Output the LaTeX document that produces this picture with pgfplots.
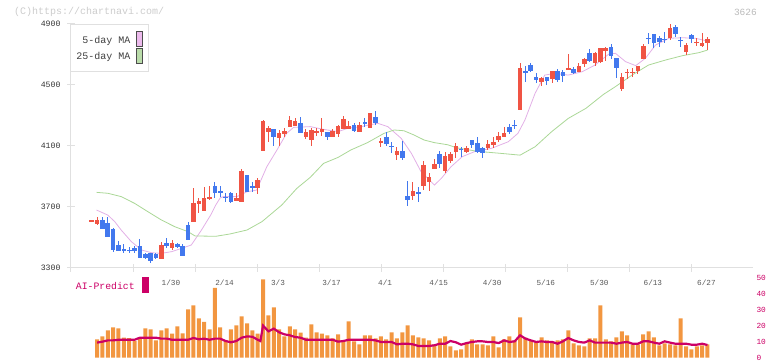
\documentclass[border=0pt]{standalone}
\usepackage{fontspec}
\setmainfont{Liberation Mono}
\usepackage{pgfplots}
\usepackage{pgfplotstable}
\pgfplotsset{compat=1.18}
\definecolor{cred}{RGB}{240,84,68}
\definecolor{cblue}{RGB}{66,120,238}
\definecolor{mafive}{RGB}{226,176,230}
\definecolor{matwentyfive}{RGB}{170,215,150}
\definecolor{volor}{RGB}{242,150,64}
\definecolor{aimag}{RGB}{204,0,102}
\definecolor{legpink}{RGB}{236,186,236}
\definecolor{leggreen}{RGB}{186,220,170}

\pgfplotstableread{
x o h l c
0 3607 3614 3607 3614
1 3591 3632 3582 3615
13 3357 3473 3357 3451
15 3433 3484 3418 3462
19 3604 3822 3604 3724
20 3722 3757 3658 3742
21 3676 3833 3676 3761
22 3758 3838 3746 3765
27 3741 3790 3741 3761
28 3735 3949 3735 3936
31 3827 3888 3783 3877
32 4069 4270 4069 4264
33 4194 4231 4128 4220
35 4155 4205 4102 4187
36 4179 4216 4161 4198
37 4227 4299 4227 4270
38 4231 4281 4231 4264
40 4161 4209 4146 4194
41 4139 4216 4102 4205
42 4190 4216 4168 4197
43 4194 4281 4168 4211
45 4161 4211 4161 4198
46 4176 4238 4161 4231
47 4211 4297 4211 4275
48 4211 4264 4211 4231
50 4194 4260 4194 4238
52 4220 4314 4220 4314
54 4117 4155 4096 4135
57 4041 4096 4008 4067
60 3772 3862 3746 3805
62 3838 4002 3811 3975
63 3866 3925 3805 3894
64 3949 4013 3949 3982
66 3938 4063 3925 4034
67 4002 4063 3986 4048
68 4063 4117 4019 4100
70 4063 4102 4052 4089
74 4085 4139 4074 4113
75 4106 4161 4085 4128
76 4139 4194 4128 4165
77 4157 4227 4157 4187
80 4336 4646 4336 4614
84 4522 4555 4496 4548
86 4539 4592 4511 4592
89 4602 4703 4598 4609
91 4587 4642 4583 4625
92 4635 4675 4620 4670
94 4642 4718 4627 4708
95 4653 4745 4642 4745
96 4723 4747 4657 4740
99 4474 4581 4463 4555
100 4580 4603 4539 4587
101 4580 4609 4555 4587
102 4592 4624 4570 4624
103 4668 4769 4668 4756
108 4810 4900 4795 4876
111 4718 4773 4697 4762
113 4778 4806 4758 4785
114 4756 4843 4751 4778
115 4773 4812 4729 4802
}\upc

\pgfplotstableread{
x o h l c
2 3615 3632 3556 3556
3 3593 3632 3505 3505
4 3556 3560 3407 3418
5 3451 3477 3414 3414
6 3427 3457 3396 3409
7 3421 3440 3400 3414
8 3429 3444 3400 3414
9 3444 3490 3363 3368
10 3390 3396 3359 3363
11 3396 3396 3330 3348
12 3390 3396 3359 3363
14 3462 3494 3429 3444
16 3457 3462 3429 3435
17 3444 3457 3381 3381
18 3582 3599 3484 3484
23 3838 3866 3760 3790
24 3807 3838 3768 3790
25 3768 3794 3735 3761
26 3790 3800 3724 3735
29 3910 3910 3800 3800
30 3836 3866 3800 3829
34 4211 4211 4102 4161
39 4253 4292 4187 4187
44 4194 4194 4139 4161
49 4238 4249 4190 4198
51 4256 4281 4227 4249
53 4292 4330 4238 4249
55 4157 4190 4102 4113
56 4103 4128 4052 4096
58 4067 4133 4008 4023
59 3772 3873 3706 3746
61 3797 3829 3735 3790
65 4048 4067 3958 3982
69 4081 4096 4030 4074
71 4139 4139 4085 4106
72 4117 4161 4052 4063
73 4085 4096 4019 4056
78 4227 4242 4176 4194
79 4240 4270 4211 4233
81 4590 4625 4517 4583
82 4631 4642 4587 4594
83 4555 4581 4515 4533
85 4555 4555 4500 4528
87 4592 4605 4522 4533
88 4587 4598 4522 4561
90 4605 4620 4572 4576
93 4708 4734 4653 4659
97 4747 4769 4670 4692
98 4675 4675 4548 4614
104 4809 4839 4767 4802
105 4834 4834 4745 4778
106 4810 4821 4751 4784
107 4802 4845 4773 4795
109 4882 4893 4817 4834
110 4798 4817 4747 4791
112 4828 4834 4773 4799
}\dnc

\pgfplotstableread{
x m
0.9 3680
3.0 3647
4.3 3604
5.5 3549
7.4 3473
9.3 3418
11.2 3400
13.0 3396
14.9 3407
16.8 3429
18.6 3451
20.5 3549
22.3 3652
23.2 3715
24.0 3760
24.6 3768
27.1 3768
29.0 3800
30.8 3811
32.7 3964
34.6 4074
36.4 4183
37.7 4222
40.8 4227
43.3 4209
46.0 4194
47.8 4216
50.3 4227
53.4 4249
55.3 4227
57.8 4150
59.7 4052
61.5 3932
64.0 3844
65.3 3888
67.1 3964
69.2 4030
71.5 4063
74.7 4085
77.8 4128
79.6 4183
80.9 4270
82.8 4445
84.6 4565
86.5 4576
89.0 4565
91.6 4587
94.0 4631
96.5 4701
97.8 4708
99.7 4653
101.6 4627
103.4 4675
105.3 4762
107.8 4806
110.3 4810
112.8 4806
115.0 4788
}\mafivetab

\pgfplotstableread{
x m
0.9 3796
3.0 3790
5.5 3768
8.0 3724
10.5 3669
13.0 3615
15.5 3571
18.0 3538
19.3 3510
23.2 3508
25.8 3523
29.0 3549
31.8 3604
35.5 3713
38.3 3822
40.8 3894
43.3 3986
46.0 4025
48.4 4074
51.5 4122
54.6 4183
56.5 4205
58.3 4200
60.2 4172
62.1 4139
64.0 4122
66.5 4108
68.2 4088
72.0 4065
76.3 4052
80.0 4040
82.8 4095
85.9 4194
89.0 4281
92.3 4347
95.6 4439
97.8 4489
100.9 4565
104.0 4631
107.2 4664
110.3 4692
113.4 4712
115.0 4729
}\matwfivetab

\pgfplotstableread{
x v
1 11.6
2 13.4
3 17.2
4 19.1
5 18.5
6 12.6
7 12.4
8 10.5
9 13.0
10 18.5
11 17.9
12 10.9
13 17.2
14 18.5
15 15.1
16 19.7
17 15.3
18 30.5
19 33.0
20 24.8
21 22.5
22 17.9
23 43.9
24 19.1
25 11.1
26 17.9
27 20.4
28 26.1
29 21.6
30 17.2
31 15.1
32 49.4
33 26.7
34 31.7
35 17.9
36 13.4
37 19.7
38 17.9
39 15.8
40 12.6
41 21.0
42 16.0
43 15.1
44 14.1
45 12.2
46 14.7
47 10.3
48 22.9
49 10.3
50 8.4
51 14.1
52 14.1
53 12.2
54 13.4
55 11.6
56 16.0
57 12.2
58 16.0
59 20.4
60 14.1
61 12.8
62 12.2
63 10.9
64 8.4
65 12.2
66 13.4
67 7.1
68 4.6
69 5.3
70 9.0
71 11.6
72 8.4
73 8.4
74 7.8
75 13.4
76 6.5
77 11.6
78 13.4
79 10.9
80 25.4
81 12.6
82 10.9
83 9.7
84 12.8
85 10.9
86 9.7
87 10.9
88 11.6
89 17.2
90 9.0
91 7.8
92 7.1
93 12.2
94 12.2
95 33.0
96 11.6
97 10.3
98 12.8
99 16.6
100 14.1
101 8.4
102 8.4
103 14.7
104 16.6
105 12.8
106 7.8
107 9.0
108 8.4
109 7.8
110 24.8
111 7.1
112 5.3
113 7.1
114 7.8
115 8.4
}\voltab

\pgfplotstableread{
x a
1 9.5
2 10.1
3 10.9
4 10.9
5 11.3
6 11.3
7 11.3
8 11.3
9 12.6
10 12.6
11 12.6
12 12.6
13 12.0
14 12.0
15 11.3
16 11.3
17 11.3
18 11.3
19 12.4
20 11.6
21 12.0
22 11.3
23 12.0
24 12.0
25 10.5
26 9.7
27 10.5
28 12.6
29 13.4
30 13.2
31 11.3
31.5 10.5
32 20.2
33 16.6
34 18.3
35 16.0
36 14.7
37 14.1
38 13.0
39 12.6
40 11.3
41 11.3
42 11.3
43 11.3
44 11.3
45 11.3
46 10.1
47 10.5
48 11.3
49 11.3
50 11.3
51 11.3
52 11.3
53 10.9
54 9.9
55 9.9
56 9.9
57 8.4
58 8.8
59 8.8
60 8.4
61 7.4
62 7.4
63 7.4
64 7.8
65 8.8
66 8.8
67 10.5
68 9.7
69 8.2
70 9.2
71 9.9
72 10.3
73 10.3
74 9.9
75 9.9
76 9.2
77 10.9
78 9.9
79 10.3
80 14.1
81 12.0
82 10.9
83 9.9
84 10.3
85 9.9
86 9.9
87 8.8
88 10.3
89 12.4
90 10.9
91 9.9
92 9.5
93 10.9
94 9.5
95 9.5
96 9.5
97 9.5
98 8.8
99 9.5
100 9.9
101 8.8
102 8.8
103 10.3
104 10.3
105 9.5
106 8.8
107 10.3
108 9.5
109 8.8
110 8.8
111 8.8
112 8.2
113 8.2
114 8.8
115 8.0
}\aitab

\begin{document}
\begin{tikzpicture}[x=1pt,y=1pt]
\path[use as bounding box] (0,0) rectangle (772,361);

\begin{axis}[
  at={(71pt,93pt)}, anchor=south west, scale only axis,
  width=682pt, height=244pt,
  xmin=-3.87, xmax=123.5, ymin=3300, ymax=4900,
  axis x line*=bottom, axis y line*=left,
  axis line style={draw=black!12, line width=1pt, -},
  xtick={-3.87,7.71,19.29,30.87,42.45,54.03,65.61,77.19,88.77,100.35,111.93,123.51},
  xticklabels={},
  ytick={3300,3700,4100,4500,4900},
  tick align=center, major tick length=8pt,
  tick style={draw=black!12, line width=1pt},
  yticklabel style={font=\fontsize{8.2}{9}\selectfont, text=black!80, xshift=-3pt},
  /pgf/number format/1000 sep={},
  /pgf/number format/assume math mode=true,
  clip=false,
  candle/.style={draw=none, mark=none, forget plot,
    error bars/.cd, y dir=both, y explicit, error mark=none},
]
\addplot[mafive, line width=0.8pt, mark=none] table[x=x,y=m]{\mafivetab};
\addplot[matwentyfive, line width=0.8pt, mark=none] table[x=x,y=m]{\matwfivetab};
% wicks
\addplot[candle, error bar style={line width=1pt, draw=cred, solid}]
  table[x=x, y expr={(\thisrow{h}+\thisrow{l})/2}, y error expr={(\thisrow{h}-\thisrow{l})/2}]{\upc};
\addplot[candle, error bar style={line width=1pt, draw=cblue, solid}]
  table[x=x, y expr={(\thisrow{h}+\thisrow{l})/2}, y error expr={(\thisrow{h}-\thisrow{l})/2}]{\dnc};
% bodies
\addplot[candle, error bar style={line width=4.6pt, draw=cred, solid}]
  table[x=x, y expr={(\thisrow{o}+\thisrow{c})/2}, y error expr={abs(\thisrow{c}-\thisrow{o})/2}]{\upc};
\addplot[candle, error bar style={line width=4.6pt, draw=cblue, solid}]
  table[x=x, y expr={(\thisrow{o}+\thisrow{c})/2}, y error expr={abs(\thisrow{c}-\thisrow{o})/2}]{\dnc};
\end{axis}

\begin{axis}[
  at={(71pt,3.3pt)}, anchor=south west, scale only axis,
  width=682pt, height=79.4pt,
  xmin=-3.87, xmax=123.5, ymin=0, ymax=50,
  axis x line=none, axis y line*=right,
  y axis line style={draw=none},
  ytick={0,10,20,30,40,50}, major tick length=0pt,
  yticklabel style={font=\fontsize{7.8}{8}\selectfont, text=aimag},
  /pgf/number format/assume math mode=true,
  clip=false,
]
\addplot[ybar, bar width=4pt, fill=volor, draw=none] table[x=x,y=v]{\voltab};
\addplot[aimag, line width=2.2pt, mark=none] table[x=x,y=a]{\aitab};
\begin{scope}[every node/.style={font=\fontsize{7.7}{8}\selectfont, text=black!65}]
\node at (axis cs:14.8,47.3) {1/30};
\node at (axis cs:24.8,47.3) {2/14};
\node at (axis cs:34.8,47.3) {3/3};
\node at (axis cs:44.8,47.3) {3/17};
\node at (axis cs:54.8,47.3) {4/1};
\node at (axis cs:64.8,47.3) {4/15};
\node at (axis cs:74.8,47.3) {4/30};
\node at (axis cs:84.8,47.3) {5/16};
\node at (axis cs:94.8,47.3) {5/30};
\node at (axis cs:104.8,47.3) {6/13};
\node at (axis cs:114.8,47.3) {6/27};
\end{scope}
\end{axis}

% legend
\draw[draw=black!12, line width=0.8pt, fill=white] (70.7,289.3) rectangle (148.3,337);
\node[anchor=east, inner sep=0pt, font=\fontsize{10}{10}\selectfont, text=black!75] at (130.5,320) {5-day MA};
\draw[draw=black!70, line width=0.8pt, fill=legpink] (136.7,315) rectangle (142.7,329.3);
\node[anchor=east, inner sep=0pt, font=\fontsize{10}{10}\selectfont, text=black!75] at (130.5,304.3) {25-day MA};
\draw[draw=black!70, line width=0.8pt, fill=leggreen] (136.7,297.7) rectangle (142.7,312.7);

% AI-Predict label
\node[anchor=west, inner sep=0pt, font=\fontsize{9.8}{10}\selectfont, text=aimag] at (75.7,75) {AI-Predict};
\fill[aimag] (142,68.3) rectangle (148.7,84.3);

% header texts
\node[anchor=west, inner sep=0pt, font=\fontsize{10}{10}\selectfont, text=black!20] at (14,348.7) {(C)https://chartnavi.com/};
\node[anchor=east, inner sep=0pt, font=\fontsize{9.5}{10}\selectfont, text=black!27] at (757,348.7) {3626};
\end{tikzpicture}
\end{document}
